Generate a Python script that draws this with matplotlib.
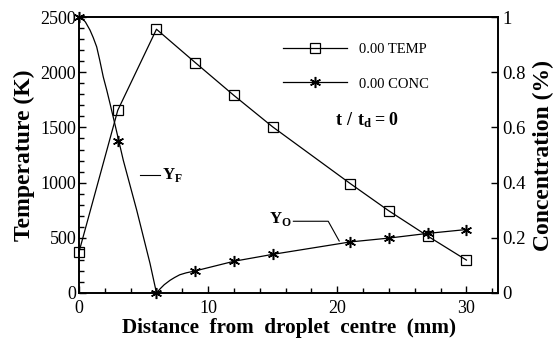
import matplotlib.pyplot as plt
from matplotlib.ticker import MultipleLocator

plt.rcParams['font.family'] = ['Liberation Serif', 'DejaVu Serif']
plt.rcParams['mathtext.fontset'] = 'custom'
plt.rcParams['mathtext.rm'] = 'Liberation Serif'
plt.rcParams['mathtext.bf'] = 'Liberation Serif:bold'

# temperature (K) at the marker positions
x_temp = [0, 3, 6, 9, 12, 15, 21, 24, 27, 30]
temp = [372, 1655, 2390, 2088, 1790, 1505, 992, 744, 516, 298]

# concentration curve (fraction)
x_conc_line = [0, 0.25, 0.5, 0.85, 1.1, 1.37, 1.6, 1.88, 2.15, 2.4, 2.8, 3.43,
               4.47, 5.5, 6.0, 6.3, 6.6, 7.05, 7.4, 7.8, 8.3, 9, 12, 15, 21,
               24, 27, 30]
conc_line = [1.0, 0.995, 0.982, 0.953, 0.926, 0.892, 0.845, 0.783, 0.735, 0.687,
             0.608, 0.481, 0.30, 0.107, 0.0, 0.016, 0.03, 0.046, 0.056, 0.066,
             0.073, 0.08, 0.115, 0.14, 0.185, 0.199, 0.216, 0.23]
# concentration markers
x_conc = [0, 3, 6, 9, 12, 15, 21, 24, 27, 30]
conc = [1.0, 0.552, 0.0, 0.079, 0.116, 0.14, 0.185, 0.198, 0.218, 0.23]

fig = plt.figure(figsize=(5.54, 3.49), dpi=100)
ax = fig.add_axes([0.1426, 0.1605, 0.7564, 0.7905])
ax2 = ax.twinx()

star = (6, 2, 0)
h_temp, = ax.plot(x_temp, temp, color='black', lw=0.9, marker='s', ms=7,
                  mfc='none', mec='black', mew=0.9, clip_on=False)
ax2.plot(x_conc_line, conc_line, color='black', lw=0.9, clip_on=False)
ax2.plot(x_conc, conc, ls='none', marker=star, ms=8, mec='black', mew=1.1,
         clip_on=False)
h_conc, = ax2.plot([], [], color='black', lw=0.9, marker=star, ms=8,
                   mec='black', mew=1.1)

ax.set_xlim(0, 32.45)
ax.set_ylim(0, 2500)
ax2.set_ylim(0, 1)

ax.xaxis.set_major_locator(MultipleLocator(10))
ax.xaxis.set_minor_locator(MultipleLocator(2))
ax.yaxis.set_major_locator(MultipleLocator(500))
ax.yaxis.set_minor_locator(MultipleLocator(100))
ax2.set_yticks([0, 0.2, 0.4, 0.6, 0.8, 1.0])
ax2.set_yticklabels(['0', '0.2', '0.4', '0.6', '0.8', '1'])

for a in (ax, ax2):
    a.tick_params(which='major', direction='in', length=5, width=1, labelsize=13)
    a.tick_params(which='minor', direction='in', length=3.5, width=1)
    for s in a.spines.values():
        s.set_linewidth(1.2)
ax.tick_params(axis='x', top=False, pad=5)
ax.tick_params(axis='y', right=False, pad=2)
ax2.tick_params(axis='y', pad=3, labelsize=13.5)

ax.set_xlabel('Distance  from  droplet  centre  (mm)', fontsize=15.2,
              fontweight='bold', labelpad=1)
ax.set_ylabel('Temperature (K)', fontsize=17, fontweight='bold', labelpad=4)
ax2.set_ylabel('Concentration (%)', fontsize=17, fontweight='bold', labelpad=5)

# annotations
ax.plot([4.73, 6.28], [1067, 1067], color='black', lw=0.8)
ax.text(6.4, 1067, r'$\mathbf{Y}_{\mathbf{F}}$', fontsize=12, va='center', ha='left')
ax.plot([16.6, 19.3, 20.15], [650, 650, 471], color='black', lw=0.8)
ax.text(16.45, 670, r'$\mathbf{Y}_{\mathbf{O}}$', fontsize=12, va='center', ha='right')
ax.text(22.3, 1566, r'$\mathbf{t\ /\ t_d = 0}$', fontsize=13, va='center', ha='center')

ax2.legend([h_temp, h_conc], ['0.00 TEMP', '0.00 CONC'], loc='upper left',
           bbox_to_anchor=(0.487, 0.906), frameon=False, fontsize=10.5,
           handlelength=4.4, handletextpad=0.8, labelspacing=1.45,
           borderpad=0, borderaxespad=0)

fig.savefig('out.png', dpi=100)
